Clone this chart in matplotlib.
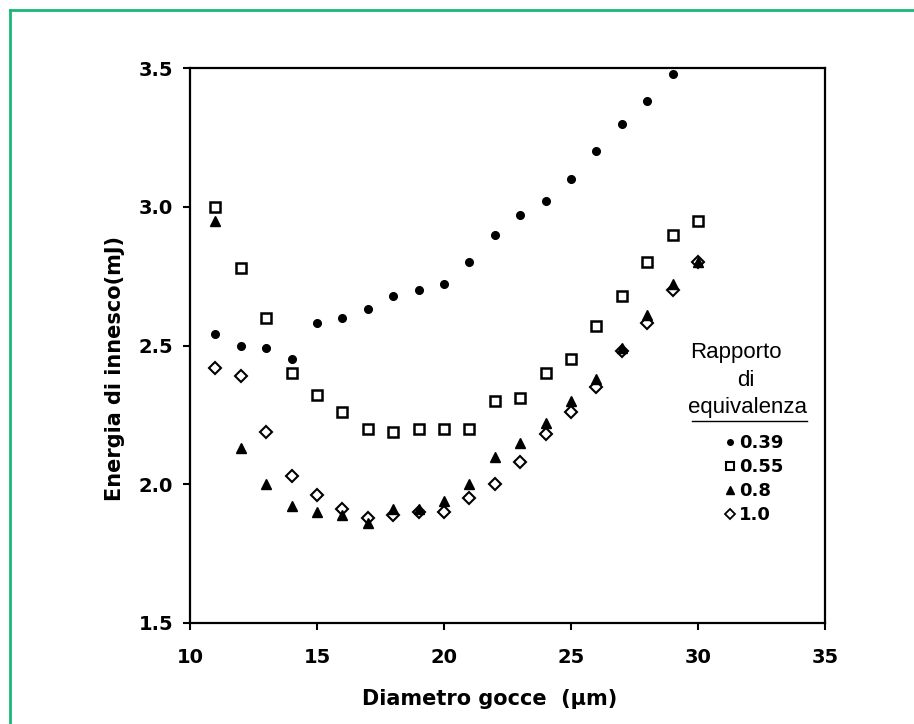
import matplotlib.pyplot as plt
from matplotlib.lines import Line2D

# Diametro gocce (µm)
diametro = [11, 12, 13, 14, 15, 16, 17, 18, 19, 20, 21, 22, 23, 24, 25, 26, 27, 28, 29, 30]

# Energia di innesco (mJ) per rapporto di equivalenza
e_039 = [2.54, 2.50, 2.49, 2.45, 2.58, 2.60, 2.63, 2.68, 2.70, 2.72,
         2.80, 2.90, 2.97, 3.02, 3.10, 3.20, 3.30, 3.38, 3.48]
e_055 = [3.00, 2.78, 2.60, 2.40, 2.32, 2.26, 2.20, 2.19, 2.20, 2.20,
         2.20, 2.30, 2.31, 2.40, 2.45, 2.57, 2.68, 2.80, 2.90, 2.95]
e_08 = [2.95, 2.13, 2.00, 1.92, 1.90, 1.89, 1.86, 1.91, 1.91, 1.94,
        2.00, 2.10, 2.15, 2.22, 2.30, 2.38, 2.49, 2.61, 2.72, 2.80]
e_10 = [2.42, 2.39, 2.19, 2.03, 1.96, 1.91, 1.88, 1.89, 1.90, 1.90,
        1.95, 2.00, 2.08, 2.18, 2.26, 2.35, 2.48, 2.58, 2.70, 2.80]

etichette = ["0.39", "0.55", "0.8", "1.0"]

fig = plt.figure(figsize=(9.14, 7.24), dpi=100)
ax = fig.add_axes([190 / 914, 1 - 623 / 724, 635 / 914, 555 / 724])

# serie
ax.plot(diametro[:len(e_039)], e_039, "o", color="black", markersize=5.5, zorder=3)
ax.plot(diametro, e_055, "s", markerfacecolor="white", markeredgecolor="black",
        markersize=7, markeredgewidth=1.8, zorder=3)
ax.plot(diametro, e_10, "D", markerfacecolor="white", markeredgecolor="black",
        markersize=6, markeredgewidth=1.5, zorder=3)
ax.plot(diametro, e_08, "^", color="black", markersize=7, zorder=4)

ax.set_xlim(10, 35)
ax.set_ylim(1.5, 3.5)
ax.set_xticks([10, 15, 20, 25, 30, 35])
ax.set_yticks([1.5, 2.0, 2.5, 3.0, 3.5])
ax.set_yticklabels(["1.5", "2.0", "2.5", "3.0", "3.5"])
for s in ax.spines.values():
    s.set_linewidth(1.6)
ax.tick_params(direction="out", length=5, width=1.5, labelsize=14)
ax.tick_params(axis="x", pad=13)
ax.tick_params(axis="y", pad=7)
for lab in ax.get_xticklabels() + ax.get_yticklabels():
    lab.set_fontweight("bold")

ax.set_xlabel("Diametro gocce  (µm)", fontsize=15, fontweight="bold")
ax.set_ylabel("Energia di innesco(mJ)", fontsize=15, fontweight="bold")
ax.xaxis.set_label_coords(0.472, -0.119)
ax.yaxis.set_label_coords(-0.102, 0.458)

# legenda
ax.text(29.69, 2.476, "Rapporto", fontsize=16, family="Liberation Sans", va="center")
ax.text(31.9, 2.375, "di", fontsize=16, family="Liberation Sans", va="center", ha="center")
ax.text(29.62, 2.278, "equivalenza", fontsize=16, family="Liberation Sans", va="center")
ax.plot([29.76, 34.29], [2.227, 2.227], color="black", linewidth=1)

maniglie = [
    Line2D([], [], ls="none", marker="o", color="black", markersize=4),
    Line2D([], [], ls="none", marker="s", markerfacecolor="white",
           markeredgecolor="black", markersize=6, markeredgewidth=1.5),
    Line2D([], [], ls="none", marker="^", color="black", markersize=6),
    Line2D([], [], ls="none", marker="D", markerfacecolor="white",
           markeredgecolor="black", markersize=5, markeredgewidth=1.3),
]
leg = ax.legend(maniglie, etichette, loc="upper left", bbox_to_anchor=(30.7, 2.212),
                bbox_transform=ax.transData, frameon=False, handlelength=0.6,
                handletextpad=0.2, labelspacing=0.33, borderpad=0,
                prop={"size": 13, "weight": "bold"})

# cornice verde
verde = "#1db67a"
fig.add_artist(Line2D([10 / 914, 10 / 914], [0, 1 - 10 / 724], color=verde, lw=2))
fig.add_artist(Line2D([10 / 914, 1], [1 - 10 / 724, 1 - 10 / 724], color=verde, lw=2))

fig.savefig("out.png", dpi=100)
